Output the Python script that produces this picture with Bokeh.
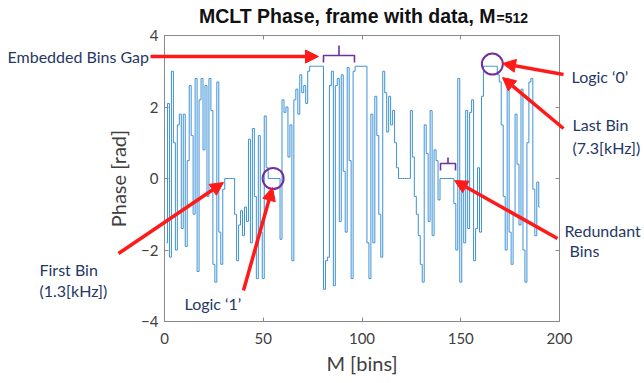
from bokeh.plotting import figure
from bokeh.models import (Label, Arrow, NormalHead, LinearAxis, FixedTicker, Range1d,
                          CustomLabelingPolicy)
from bokeh.embed import file_html
from bokeh.resources import INLINE

# ---------------- data ----------------
bins = list(range(1, 191))
phase = [
    -1.8, 2.1, -2.2, 3.0, 1.0, -2.0, 1.5, 1.8, -1.4, 1.8,
    -1.9, 0.5, 2.6, 1.2, -1.0, 2.8, -2.6, 2.2, 2.8, 0.8,
    2.6, -0.5, 2.8, 1.9, -2.4, -2.9, 2.7, -1.5, -2.4, -0.3,
    0.0, 0.0, 0.0, 0.0, 0.0,
    -1.0, -2.3, -1.3, -0.9, -1.6, -0.8, -1.2, 1.1, -1.8, 1.4,
    -0.5, -2.8, 1.2, -1.5, -2.8, 1.75, 0.3,
    0.0, 0.0, 0.0, 0.0, 0.0, 0.0,
    -1.7, 2.2, 1.85, 2.0, 0.6, 1.5, -2.3, 2.2, 2.5, 1.8,
    2.9, 2.4, 2.6, 2.1, 3.0,
    3.14, 3.14, 3.14, 3.14, 3.14, 3.14, 3.14,
    -3.1, -2.3, -2.2, 2.6, 3.0, -3.0, 2.6, 2.8, -1.2, 2.9,
    0.2, -1.5, 3.1, 0.5, -2.8, 3.0,
    3.14, 3.14, 3.14, 3.14, 3.14, 3.14,
    -1.8, -2.8, 1.8, -1.8, 2.3, 1.2, -1.0, -2.2, 3.0, 2.4,
    1.3, 2.3, 1.5, 1.9, 1.0, 0.3,
    0.0, 0.0, 0.0, 0.0, 0.0, 0.0,
    1.9, 0.6, -0.5, -1.0, -1.6, -2.4, -2.9, 1.5, 0.7, -1.2,
    1.9, -1.6, 0.8, 0.5, -0.6,
    0.0, 0.0, 0.0, 0.0, 0.0, 0.0, 0.0,
    -0.7, -2.0, 2.8, -2.9, -0.2, -1.8, 1.9, -1.4, 1.85, 2.2,
    -2.3, -1.4, 0.3, -1.5, 2.3,
    3.14, 3.14, 3.14, 3.14, 3.14, 3.14, 3.14,
    2.9, 2.7, 1.5, -0.5, -2.0, 2.8, -1.5, -2.4, -1.0, 1.8,
    0.4, -1.3, 2.5, -2.0, -2.9, 1.0, 2.7, 2.8, -0.3, -1.6,
    -0.1, -0.8,
]
x_ticks = [0, 50, 100, 150, 200]
y_ticks = [-4, -2, 0, 2, 4]
x_lim = (0, 200)
y_lim = (-4, 4)
circle_x = [55, 166]
circle_y = [0.0, 3.2]

# ---------------- layout: plot box position on the canvas (px) ----------------
W, H = 644, 383
BOX_L, BOX_R, BOX_T, BOX_B = 164, 559, 35, 321

def dx(px):
    return x_lim[0] + (px - BOX_L) * (x_lim[1] - x_lim[0]) / (BOX_R - BOX_L)

def dy(py):
    return y_lim[1] - (py - BOX_T) * (y_lim[1] - y_lim[0]) / (BOX_B - BOX_T)

AX = "#8a8a8a"
TXT = "#404040"
NAVY = "#1f3864"
PURPLE = "#7030a0"
RED = "#ff1a1a"

p = figure(width=W, height=H,
           x_range=Range1d(dx(0), dx(W)), y_range=Range1d(dy(H), dy(0)),
           output_backend="svg", toolbar_location=None, min_border=0,
           background_fill_color="white", border_fill_color="white")
p.grid.visible = False
p.outline_line_color = None

def style(ax):
    ax.major_tick_in = 4
    ax.major_tick_out = 0
    ax.minor_tick_line_color = None
    ax.axis_line_color = AX
    ax.major_tick_line_color = AX
    ax.major_label_text_font = "Lato"
    ax.major_label_text_font_size = "15px"
    ax.major_label_text_color = TXT
    ax.axis_label_text_font = "Lato"
    ax.axis_label_text_font_size = "20px"
    ax.axis_label_text_font_style = "normal"
    ax.axis_label_text_color = TXT

xa = p.xaxis[0]
ya = p.yaxis[0]
style(xa)
style(ya)
xa.ticker = FixedTicker(ticks=x_ticks)
ya.ticker = FixedTicker(ticks=y_ticks)
xa.fixed_location = y_lim[0]
ya.fixed_location = x_lim[0]
xa.bounds = x_lim
ya.bounds = y_lim
xa.axis_label = "M [bins]"
ya.axis_label = "Phase [rad]"
xa.major_label_standoff = 11
xa.axis_label_standoff = 4
ya.major_label_standoff = 6
ya.axis_label_standoff = 8

top = LinearAxis(ticker=FixedTicker(ticks=x_ticks), fixed_location=y_lim[1], bounds=x_lim,
                 major_label_policy=CustomLabelingPolicy(code="if (false) { yield 0 }"),
                 major_tick_in=4, major_tick_out=0, minor_tick_line_color=None,
                 axis_line_color=AX, major_tick_line_color=AX)
right = LinearAxis(ticker=FixedTicker(ticks=y_ticks), fixed_location=x_lim[1], bounds=y_lim,
                   major_label_policy=CustomLabelingPolicy(code="if (false) { yield 0 }"),
                   major_tick_in=4, major_tick_out=0, minor_tick_line_color=None,
                   axis_line_color=AX, major_tick_line_color=AX)
p.add_layout(top, "above")
p.add_layout(right, "right")

p.step(bins, phase, mode="center", line_color="#3d92d6", line_width=1.0)

# purple circles
p.scatter(circle_x, circle_y, size=21, marker="circle", fill_color=None,
          line_color=PURPLE, line_width=2)

# purple brackets
def bracket(x0, x1, yb, yh, ys):
    xm = (x0 + x1) / 2
    return ([x0, x0, x1, x1], [yh, yb, yb, yh]), ([xm, xm], [yb, ys])

for (x0, x1, yb, yh, ys) in [(dx(323), dx(354), dy(55), dy(62), dy(45)),
                             (dx(440), dx(455), dy(163), dy(170), dy(157))]:
    (bx, by), (sx, sy) = bracket(x0, x1, yb, yh, ys)
    p.line(bx, by, line_color=PURPLE, line_width=1.6)
    p.line(sx, sy, line_color=PURPLE, line_width=1.6)

# title
p.add_layout(Label(x=495, y=15, x_units="canvas", y_units="canvas",
                   text="MCLT Phase, frame with data, M",
                   text_align="right", text_baseline="middle",
                   text_font="Liberation Sans", text_font_style="bold",
                   text_font_size="19.5px", text_color="#111111"))
p.add_layout(Label(x=496, y=17, x_units="canvas", y_units="canvas", text="=512",
                   text_align="left", text_baseline="middle",
                   text_font="Liberation Sans", text_font_style="bold",
                   text_font_size="14px", text_color="#111111"))

# annotation texts
for (px, py, t) in [(7, 56, "Embedded Bins Gap"),
                    (571, 76, "Logic \u20180\u2019"),
                    (572, 124, "Last Bin"),
                    (572, 147, "(7.3[kHz])"),
                    (564, 230, "Redundant"),
                    (569, 250, "Bins"),
                    (39, 269, "First Bin"),
                    (39, 290, "(1.3[kHz])"),
                    (184, 303, "Logic \u20181\u2019")]:
    p.add_layout(Label(x=px, y=py, x_units="canvas", y_units="canvas", text=t,
                       text_align="left", text_baseline="middle", text_font="Lato",
                       text_font_size="16px", text_color=NAVY))

# red arrows
for (x0, y0, x1, y1) in [(150, 56, 318, 56),
                         (563, 74, 502, 63),
                         (563, 128, 502, 77),
                         (557, 238, 454, 180),
                         (118, 253, 223, 182),
                         (243, 290, 272, 187)]:
    p.add_layout(Arrow(x_start=x0, y_start=y0, x_end=x1, y_end=y1,
                       start_units="canvas", end_units="canvas",
                       line_color=RED, line_width=3.5,
                       end=NormalHead(size=13, fill_color=RED, line_color=RED, line_width=1)))

open("out.html", "w").write(file_html(p, INLINE))
